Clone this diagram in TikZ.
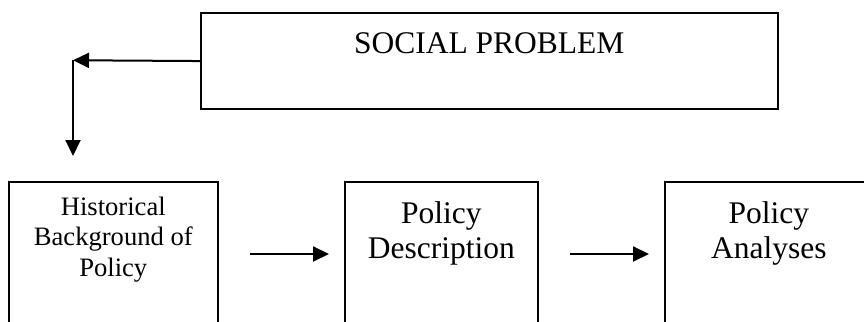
\documentclass[tikz,border=0pt]{standalone}
\usepackage{fontspec}
\setmainfont{Liberation Serif}
\usetikzlibrary{positioning,arrows.meta}

\tikzset{
	stagebox/.style={draw=black, line width=1.6pt, rectangle, inner sep=0pt, anchor=north west},
	stagetext/.style={anchor=north, inner sep=0pt, align=center, font=\fontsize{31.5}{35}\selectfont},
	smalltext/.style={anchor=north, inner sep=0pt, align=center, font=\fontsize{26.6}{30.5}\selectfont},
	flow/.style={line width=2pt, -{Triangle[length=16pt, width=15pt]}}
}

\begin{document}
\begin{tikzpicture}[x=1pt, y=-1pt]
				\useasboundingbox (0,0) rectangle (864,321);
				\clip (0,0) rectangle (864,321);
				\node[stagebox, minimum width=577pt, minimum height=95.5pt] (social) at (200,12.5) {};
				\node[stagetext, below=19.5pt of social.north] (socialtext) {SOCIAL PROBLEM};
				
				\node[stagebox, minimum width=209pt, minimum height=200pt] (hist) at (8,181) {};
				\node[stagebox, minimum width=193pt, minimum height=200pt] (desc) at (344,181) {};
				\node[stagebox, minimum width=208pt, minimum height=200pt] (anal) at (664,181) {};
				\node[smalltext, below=15.7pt of hist.north] (histtext) {Historical\\Background of\\Policy};
				\node[stagetext, below=20pt of desc.north] (desctext) {Policy\\Description};
				\node[stagetext, below=20pt of anal.north] (analtext) {Policy\\Analyses};
				
				\coordinate (bend) at (73,60.25);
				\coordinate (drop) at (73,156);
				\draw[flow] (social.west) -- (bend);
				\draw[flow] (bend) -- (drop);
				\draw[flow] ([shift={(31,73)}]hist.north east) -- ([shift={(-15,73)}]desc.north west);
				\draw[flow] ([shift={(31,73)}]desc.north east) -- ([shift={(-15,73)}]anal.north west);
			\end{tikzpicture}
\end{document}
